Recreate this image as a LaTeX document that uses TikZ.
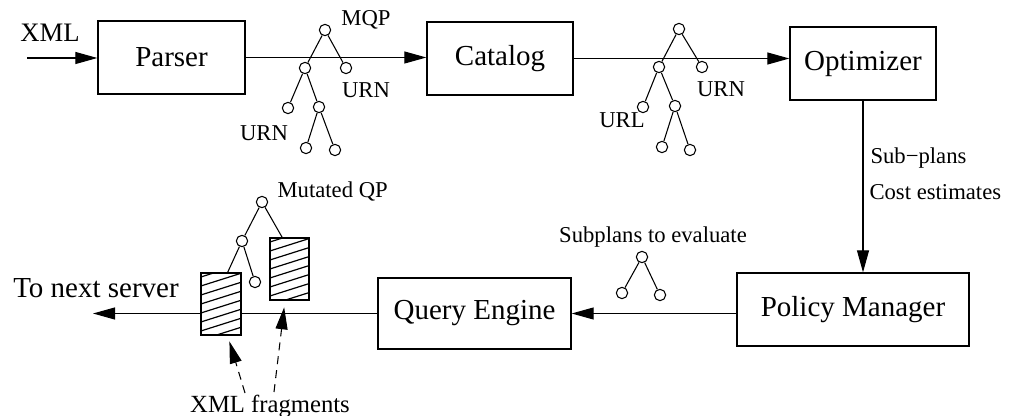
\documentclass[tikz,border=0pt]{standalone}
\usepackage{fontspec}
\setmainfont{Liberation Serif}
\usetikzlibrary{arrows.meta}

\begin{document}
\begin{tikzpicture}[x=0.75pt, y=-0.75pt, line width=0.8pt,
  >={Triangle[length=16.5pt,width=9pt]},
  module/.style={draw, line width=1pt, minimum height=54.75pt, font=\fontsize{21.75}{24}\selectfont},
  vertex/.style={draw, circle, inner sep=0pt, minimum size=8.5pt},
  lbl/.style={font=\fontsize{17}{20}\selectfont, inner sep=0pt},
  frag/.style={draw, line width=1pt, fill=white, minimum width=30pt, minimum height=46.5pt, inner sep=0pt}]

  \useasboundingbox (0,0) rectangle (1009,416);

  % boxes
  \node[module, minimum width=110.25pt] (parser) at (171.5,57.5) {Parser};
  \node[module, minimum width=109.5pt] (catalog) at (500,58.5) {Catalog};
  \node[module, minimum width=109.5pt] (optimizer) at (863,63.5) {Optimizer};
  \node[module, minimum width=174pt] (policy) at (853,309.5) {Policy Manager};
  \node[module, minimum width=144.75pt, minimum height=53.25pt] (query) at (474.5,313.5) {Query Engine};

  % flow
  \coordinate (xmlin) at (27,58);
  \coordinate (out) at (93,310);
  \draw[->] (xmlin) -- (xmlin -| parser.west);
  \node[anchor=base, inner sep=0pt, font=\fontsize{20}{22}\selectfont] (xml) at (50,42) {XML};
  \draw[->] (parser.east) -- (parser.east -| catalog.west);
  \draw[->] (catalog.east) -- (catalog.east -| optimizer.west);
  \draw[->] (optimizer.south) -- (optimizer.south |- policy.north);
  \draw[->] (query.east -| policy.west) -- (query.east);
  \draw[->] (query.west) -- (query.west -| out);

  % MQP tree
  \node[vertex] (m0) at (325,30) {};
  \node[vertex] (m1) at (305,68) {};
  \node[vertex] (m2) at (346,68) {};
  \node[vertex] (m3) at (288,108) {};
  \node[vertex] (m4) at (319,107) {};
  \node[vertex] (m5) at (306,148) {};
  \node[vertex] (m6) at (335,150) {};
  \foreach \a/\b in {m0/m1, m0/m2, m1/m3, m1/m4, m4/m5, m4/m6}
    \draw (\a) -- (\b);
  \node[lbl, anchor=base] (mqp) at (366,26) {MQP};
  \node[lbl, anchor=base] (urn1) at (366,98) {URN};
  \node[lbl, anchor=base] (urn2) at (264,141) {URN};

  % catalog tree
  \node[vertex] (c0) at (679,29) {};
  \node[vertex] (c1) at (659,67) {};
  \node[vertex] (c2) at (702,67) {};
  \node[vertex] (c3) at (643,107) {};
  \node[vertex] (c4) at (675,106) {};
  \node[vertex] (c5) at (662,147) {};
  \node[vertex] (c6) at (690,150) {};
  \foreach \a/\b in {c0/c1, c0/c2, c1/c3, c1/c4, c4/c5, c4/c6}
    \draw (\a) -- (\b);
  \node[lbl, anchor=base] (url) at (622,128) {URL};
  \node[lbl, anchor=base] (urn3) at (721,97) {URN};

  \node[lbl, anchor=base west] (subp) at (870,164) {Sub{\char"2212}plans};
  \node[lbl, anchor=base west] (cost) at (869,200) {Cost estimates};

  % subplans
  \node[vertex] (s0) at (642,257) {};
  \node[vertex] (s1) at (622,293) {};
  \node[vertex] (s2) at (660,295) {};
  \draw (s0) -- (s1) (s0) -- (s2);
  \node[lbl, anchor=base] (eval) at (653,243) {Subplans to evaluate};

  % mutated QP
  \node[frag] (frag1) at (221,304) {};
  \node[frag, minimum width=29.25pt] (frag2) at (289.5,269) {};
  \foreach \f in {frag1, frag2} {
    \begin{scope}
      \clip (\f.south west) rectangle (\f.north east);
      \foreach \k in {-1,...,10}
        \draw[line width=0.9pt] ([shift={(-10,8+9*\k)}]\f.north west) -- ++(60,-19);
    \end{scope}
    \draw[line width=1pt] (\f.south west) rectangle (\f.north east);
  }
  \node[vertex] (q0) at (262,202) {};
  \node[vertex] (q1) at (242,241) {};
  \node[vertex] (q2) at (255,282) {};
  \draw (q0) -- (q1) (q1) -- (q2);
  \draw (q1) -- ([xshift=5pt]frag1.north);
  \draw (q0) -- ([xshift=-5.5pt]frag2.north);
  \node[lbl, anchor=base west] (mut) at (277,198) {Mutated QP};

  \node[anchor=base, inner sep=0pt, font=\fontsize{21.75}{24}\selectfont] (next) at (96,297) {To next server};
  \node[anchor=base, inner sep=0pt, font=\fontsize{18.5}{20}\selectfont] (frags) at (270,412) {XML fragments};
  \coordinate (d1) at (245,393);
  \coordinate (d2) at (274,392);
  \draw[->, dash pattern=on 6pt off 4.5pt, shorten >=4.5pt] (d1) -- ([xshift=5pt]frag1.south);
  \draw[->, dash pattern=on 6pt off 4.5pt, shorten >=5pt] (d2) -- ([xshift=-3.4pt]frag2.south);
\end{tikzpicture}
\end{document}
